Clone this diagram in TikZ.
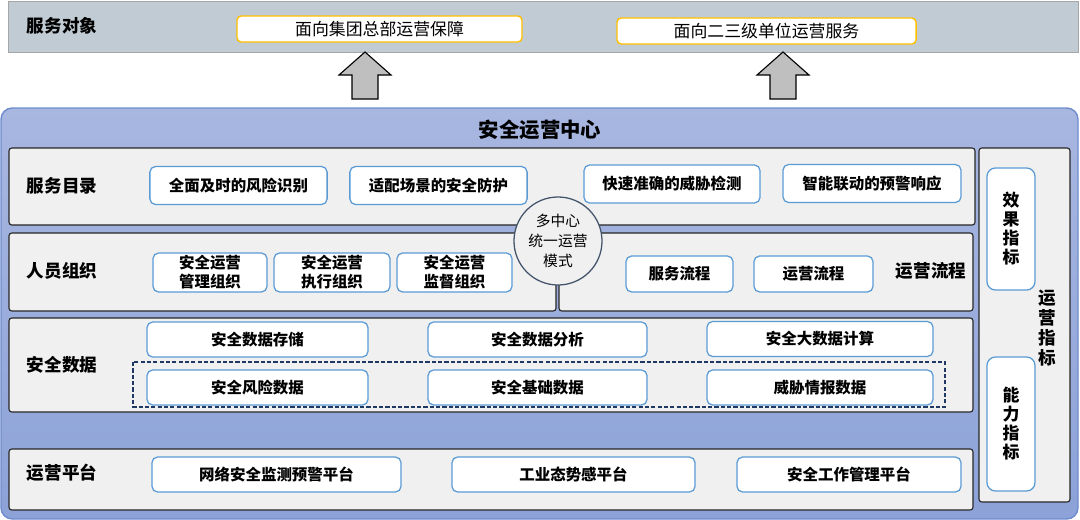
\documentclass[tikz,border=0pt]{standalone}
\usepackage{fontspec}
\setmainfont{Noto Sans CJK SC}
\definecolor{bandgray}{RGB}{193, 203, 212}
\definecolor{bandline}{RGB}{166, 166, 166}
\definecolor{tagorange}{RGB}{255, 192, 0}
\definecolor{centertop}{RGB}{168, 183, 224}
\definecolor{centerbot}{RGB}{140, 162, 216}
\definecolor{centerline}{RGB}{110, 140, 205}
\definecolor{panelgray}{RGB}{240, 240, 240}
\definecolor{itemblue}{RGB}{91, 155, 213}
\definecolor{slate}{RGB}{68, 84, 106}
\definecolor{navy}{RGB}{31, 56, 100}
\usetikzlibrary{positioning}

\begin{document}
\begin{tikzpicture}[x=0.025cm, y=-0.025cm,
  panel/.style={draw=black!85, fill=panelgray, line width=0.8pt, rounded corners=2pt},
  itembox/.style={draw=itemblue, fill=white, line width=0.9pt, rounded corners=4pt, inner sep=1pt, align=center, font=\fontsize{11}{13.5}\selectfont\bfseries},
  rowlabel/.style={anchor=west, font=\fontsize{12.5}{15}\selectfont\bfseries},
  tagbox/.style={draw=tagorange, fill=white, line width=1pt, rounded corners=3pt, minimum height=0.65cm, font=\fontsize{12}{14}\selectfont},
  blockarrow/.style={draw=black, fill=black!25, line width=0.8pt, line join=miter}]
  \useasboundingbox (0,0) rectangle (1080,520);

  % Service targets
  \draw[fill=bandgray, draw=bandline] (8,1) rectangle (1078,52);
  \node[rowlabel] (ltarget) at (22,26) {服务对象};
  \node[tagbox, minimum width=7.125cm] (hq) at (379.5,29) {面向集团总部运营保障};
  \node[tagbox, minimum width=7.475cm] (sub) at (766.5,31) {面向二三级单位运营服务};

  % Up arrows
  \foreach \ax in {365,783}
    \draw[blockarrow] (\ax,52) -- ++(26,23) -- ++(-13,0) -- ++(0,24) -- ++(-26,0) -- ++(0,-24) -- ++(-13,0) -- cycle;

  % Security operations center
  \draw[top color=centertop, bottom color=centerbot, draw=centerline, line width=1pt, rounded corners=8pt] (1,108) rectangle (1078,519);
  \node[font=\fontsize{14.5}{17}\selectfont\bfseries] (title) at (540,130) {安全运营中心};

  \draw[panel] (9,148) rectangle (975,225);
  \draw[panel] (9,233) rectangle (556,311);
  \draw[panel] (559,233) rectangle (973,311);
  \draw[panel] (9,318) rectangle (973,412);
  \draw[panel] (9,449) rectangle (973,510);
  \draw[panel] (979,148) rectangle (1070,502);

  % Service catalogue
  \node[rowlabel] (lsvc) at (22,186) {服务目录};
  \node[itembox, minimum width=4.43cm, minimum height=0.95cm] (svc1) at (238.5,185.5) {全面及时的风险识别};
  \node[itembox, minimum width=4.43cm, minimum height=0.95cm] (svc2) at (438.5,185.5) {适配场景的安全防护};
  \node[itembox, minimum width=4.4cm, minimum height=0.95cm] (svc3) at (672,184) {快速准确的威胁检测};
  \node[itembox, minimum width=4.45cm, minimum height=0.95cm] (svc4) at (872,183.5) {智能联动的预警响应};

  % Staff organisation
  \node[rowlabel] (lstaff) at (22,271) {人员组织};
  \node[itembox, minimum width=2.85cm, minimum height=0.975cm] (org1) at (210,272.5) {安全运营\\管理组织};
  \node[itembox, minimum width=2.9cm, minimum height=0.975cm] (org2) at (332,272.5) {安全运营\\执行组织};
  \node[itembox, minimum width=2.875cm, minimum height=0.975cm] (org3) at (454.5,272.5) {安全运营\\监督组织};

  % Operation flows
  \node[itembox, minimum width=2.675cm, minimum height=0.9cm] (flow1) at (679.5,274) {服务流程};
  \node[itembox, minimum width=2.975cm, minimum height=0.9cm] (flow2) at (813.5,274) {运营流程};
  \node[rowlabel] (lflow) at (891,271) {运营流程};

  % Hub
  \node[circle, draw=slate, fill=panelgray, line width=0.9pt, minimum size=2.2cm, inner sep=0pt, align=center, font=\fontsize{10.5}{14}\selectfont] (hub) at (558,241) {多中心\\统一运营\\模式};

  % Security data
  \node[rowlabel] (ldata) at (22,365) {安全数据};
  \node[itembox, minimum width=5.525cm, minimum height=0.875cm] (dat1) at (257.5,339.5) {安全数据存储};
  \node[itembox, minimum width=5.475cm, minimum height=0.875cm] (dat2) at (537.5,339.5) {安全数据分析};
  \node[itembox, minimum width=5.65cm, minimum height=0.875cm] (dat3) at (820,339) {安全大数据计算};
  \draw[navy, dashed, dash pattern=on 3pt off 1.5pt, line width=0.8pt] (133,362) rectangle (945,407);
  \node[itembox, minimum width=5.525cm, minimum height=0.875cm] (src1) at (257.5,387.5) {安全风险数据};
  \node[itembox, minimum width=5.475cm, minimum height=0.875cm] (src2) at (537.5,387.5) {安全基础数据};
  \node[itembox, minimum width=5.65cm, minimum height=0.875cm] (src3) at (820,387.5) {威胁情报数据};

  % Operation platforms
  \node[rowlabel] (lplat) at (22,473) {运营平台};
  \node[itembox, minimum width=6.225cm, minimum height=0.875cm] (plat1) at (276.5,474.5) {网络安全监测预警平台};
  \node[itembox, minimum width=6.075cm, minimum height=0.875cm] (plat2) at (573.5,474.5) {工业态势感平台};
  \node[itembox, minimum width=5.6cm, minimum height=0.875cm] (plat3) at (849,474.5) {安全工作管理平台};

  % Operation indicators
  \node[itembox, minimum width=1.2cm, minimum height=3.05cm, rounded corners=6pt, font=\fontsize{12}{13.5}\selectfont\bfseries] (effect) at (1011,229) {效\\果\\指\\标};
  \node[itembox, minimum width=1.2cm, minimum height=3.35cm, rounded corners=6pt, font=\fontsize{12}{13.5}\selectfont\bfseries] (ability) at (1011,424) {能\\力\\指\\标};
  \node[align=center, font=\fontsize{12.5}{14.2}\selectfont\bfseries] (lind) at (1047,328) {运\\营\\指\\标};
\end{tikzpicture}
\end{document}
